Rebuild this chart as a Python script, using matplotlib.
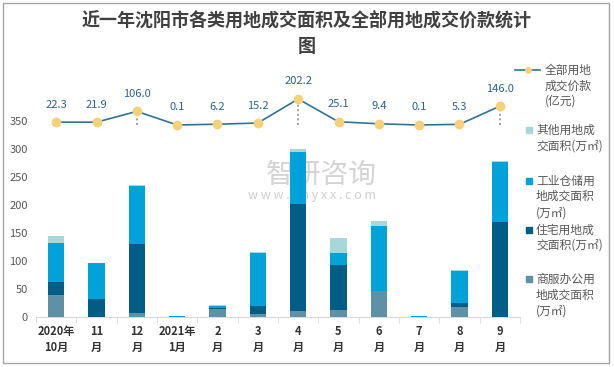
import matplotlib
matplotlib.use("Agg")
import matplotlib.pyplot as plt
from matplotlib.patches import Rectangle
from matplotlib.lines import Line2D
import numpy as np

plt.rcParams['font.family'] = ['Noto Sans CJK SC', 'DejaVu Sans']

# data
months = ["2020年\n10月", "11\n月", "12\n月", "2021年\n1月", "2\n月", "3\n月",
          "4\n月", "5\n月", "6\n月", "7\n月", "8\n月", "9\n月"]
commercial = [39.4, 0, 7.2, 0, 14.3, 5.4, 10.7, 13.0, 46.5, 0, 18.5, 0]
residential = [23.0, 32.2, 123.4, 0, 2.4, 15.0, 192.0, 80.0, 0, 0, 7.0, 170.5]
industrial = [70.0, 64.4, 104.4, 2.0, 3.6, 94.7, 93.0, 22.0, 117.0, 1.5, 57.3, 106.0]
other = [12.5, 0, 1.0, 0, 1.2, 2.0, 4.8, 26.3, 8.3, 0, 1.8, 2.0]
price = [22.3, 21.9, 106.0, 0.1, 6.2, 15.2, 202.2, 25.1, 9.4, 0.1, 5.3, 146.0]

legend_line = ["全部用地", "成交价款", "(亿元)"]
legend_other = ["其他用地成", "交面积(万㎡)"]
legend_ind = ["工业仓储用", "地成交面积", "(万㎡)"]
legend_res = ["住宅用地成", "交面积(万㎡)"]
legend_com = ["商服办公用", "地成交面积", "(万㎡)"]

c_com = "#5E91A8"
c_res = "#005E86"
c_ind = "#00A2D9"
c_oth = "#A5D8D6"
c_line = "#2F7396"
c_mark = "#F7D07A"
txt = "#595959"

W, H = 614, 367
fig = plt.figure(figsize=(W / 100, H / 100), dpi=100)

def fx(px):
    return px / W

def fy(py):
    return 1 - py / H

ax = fig.add_axes([fx(36), fy(317), fx(520) - fx(36), fy(90) - fy(317)])
x = np.arange(len(months))
w = 0.4
b1 = np.array(commercial)
b2 = b1 + np.array(residential)
b3 = b2 + np.array(industrial)
ax.bar(x, commercial, w, color=c_com, zorder=3)
ax.bar(x, residential, w, bottom=b1, color=c_res, zorder=3)
ax.bar(x, industrial, w, bottom=b2, color=c_ind, zorder=3)
ax.bar(x, other, w, bottom=b3, color=c_oth, zorder=3)

ax.set_xlim(-0.5, len(months) - 0.5)
ax.set_ylim(0, 406)
ax.set_yticks([0, 50, 100, 150, 200, 250, 300, 350])
ax.tick_params(axis='y', length=0, labelsize=8, labelcolor=txt, pad=6)
ax.set_xticks(x)
ax.set_xticklabels(months, fontsize=8, fontweight='bold', color="#333333",
                   linespacing=1.3)
ax.set_xticks(np.arange(-0.5, len(months)), minor=True)
ax.tick_params(axis='x', which='major', length=0, pad=6)
ax.tick_params(axis='x', which='minor', length=4, color="#D9D9D9")
for s in ['top', 'right', 'left']:
    ax.spines[s].set_visible(False)
ax.spines['bottom'].set_color("#D9D9D9")

# watermark behind the bars
ax.text(0.59, 0.625, "智研咨询", transform=ax.transAxes, fontsize=20,
        color="#D4D4D4", ha='center', va='center', zorder=1)
ax.text(0.57, 0.537, "w w w . c h y x x . c o m", transform=ax.transAxes,
        fontsize=9, color="#CFCFCF", ha='center', va='center', zorder=1)

# price line on a hidden secondary scale
ax2 = ax.twinx()
ax2.set_ylim(-1492, 272)
ax2.axis('off')
ax2.vlines(x, 0, price, colors="#A6A6A6", linestyles=(0, (1, 1.2)), lw=1.5, zorder=2)
ax2.plot(x, price, color=c_line, lw=1.2, marker='o', ms=6,
         mfc=c_mark, mec=c_mark, zorder=4)
for xi, v in zip(x, price):
    ax2.annotate(f"{v:.1f}", (xi, v), xytext=(0, 9), textcoords='offset points',
                 ha='center', va='bottom', fontsize=8, color="#2A6496")

# title
fig.text(0.5, fy(20), "近一年沈阳市各类用地成交面积及全部用地成交价款统计",
         ha='center', va='center', fontsize=13, fontweight='bold', color="#404040")
fig.text(0.5, fy(47), "图", ha='center', va='center', fontsize=13,
         fontweight='bold', color="#404040")

# legend, placed by hand
fig.add_artist(Line2D([fx(515), fx(540)], [fy(70), fy(70)], color=c_line, lw=1.2))
fig.add_artist(Line2D([fx(527.5)], [fy(70)], marker='o', ms=4, mfc=c_mark, mec=c_mark))
for t, py in zip(legend_line, [70, 86, 101]):
    fig.text(fx(545), fy(py), t, ha='left', va='center', fontsize=8.5, color=txt)

entries = [(c_oth, legend_other, [130, 146]),
           (c_ind, legend_ind, [181, 196, 213]),
           (c_res, legend_res, [230, 245]),
           (c_com, legend_com, [279, 295, 311])]
for col, lines, ys in entries:
    fig.add_artist(Rectangle((fx(526), fy(ys[0] + 3)), fx(6), 6 / H,
                             color=col, transform=fig.transFigure))
    for t, py in zip(lines, ys):
        fig.text(fx(536), fy(py), t, ha='left', va='center', fontsize=8.5, color=txt)

# outer frame
fig.add_artist(Rectangle((fx(3), fy(363)), fx(606), 360 / H, fill=False,
                         ec="#A6A6A6", lw=1, transform=fig.transFigure))

fig.savefig("out.png", dpi=100)
